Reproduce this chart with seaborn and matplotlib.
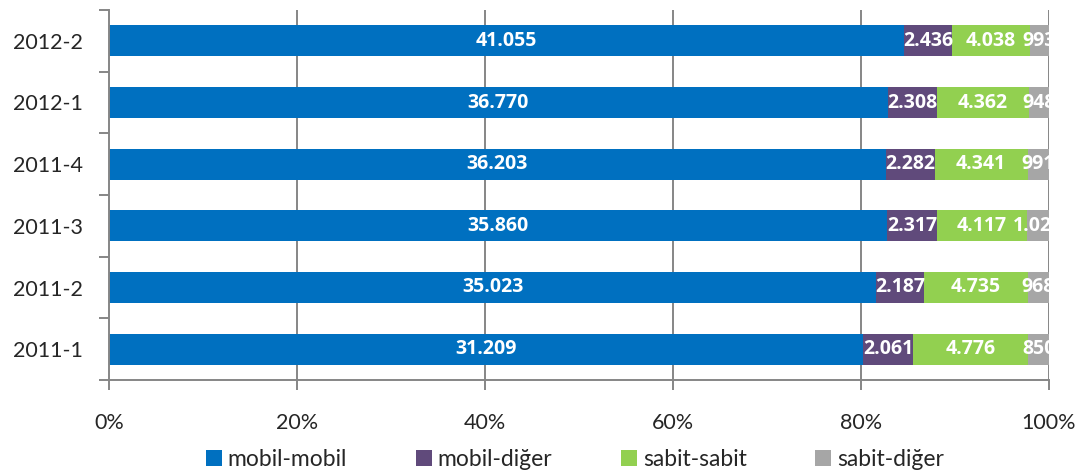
import numpy as np
import pandas as pd
import matplotlib
matplotlib.use('Agg')
import matplotlib.pyplot as plt
from matplotlib.patches import Patch
import seaborn as sns

# data (top to bottom as in the chart)
periods = ['2012-2', '2012-1', '2011-4', '2011-3', '2011-2', '2011-1']
mobil_mobil = [41055, 36770, 36203, 35860, 35023, 31209]
mobil_diger = [2436, 2308, 2282, 2317, 2187, 2061]
sabit_sabit = [4038, 4362, 4341, 4117, 4735, 4776]
sabit_diger = [993, 948, 991, 1024, 968, 850]

series = ['mobil-mobil', 'mobil-diğer', 'sabit-sabit', 'sabit-diğer']
colors = ['#0070C0', '#604A7B', '#92D050', '#A6A6A6']

sns.set_style('white')
plt.rcParams['font.family'] = ['Lato', 'DejaVu Sans']

df = pd.DataFrame({'period': periods, series[0]: mobil_mobil, series[1]: mobil_diger,
                   series[2]: sabit_sabit, series[3]: sabit_diger})
vals = df[series].to_numpy(dtype=float)
pct = vals / vals.sum(axis=1, keepdims=True) * 100
cum = np.cumsum(pct, axis=1)

fig = plt.figure(figsize=(10.91, 4.75), dpi=100)
ax = fig.add_axes([109 / 1091, 1 - 380 / 475, (1049 - 109) / 1091, 370 / 475])

# gridlines behind bars
for g in [20, 40, 60, 80, 100]:
    ax.axvline(g, color='#868686', lw=1.4, zorder=0)

# overlay cumulative bars, widest first
for i in range(3, -1, -1):
    sns.barplot(x=cum[:, i], y=periods, color=colors[i], saturation=1, width=0.5,
                orient='h', ax=ax, linewidth=0, zorder=2)

# data labels
for r in range(len(periods)):
    for i in range(4):
        left = cum[r, i] - pct[r, i]
        xc = left + pct[r, i] / 2
        txt = f"{int(vals[r, i]):,}".replace(',', '.')
        ax.text(xc, r, txt, ha='center', va='center', color='white', fontsize=14,
                fontweight='bold', family=['Open Sans', 'DejaVu Sans'],
                zorder=5, clip_on=True)

ax.set_xlim(0, 100)
ax.set_ylim(5.5, -0.5)
ax.set_xticks([0, 20, 40, 60, 80, 100])
ax.set_xticklabels(['0%', '20%', '40%', '60%', '80%', '100%'])
ax.set_yticks(range(len(periods)))
ax.set_yticklabels(periods)
ax.set_yticks(np.arange(-0.5, 6.0, 1), minor=True)
ax.set_xlabel('')
ax.set_ylabel('')

for s in ['top', 'right']:
    ax.spines[s].set_visible(False)
for s in ['left', 'bottom']:
    ax.spines[s].set_color('#868686')
    ax.spines[s].set_linewidth(1.4)

ax.tick_params(axis='x', length=7, width=1.4, color='#868686', labelsize=15.5, pad=17,
               direction='out', bottom=True)
ax.tick_params(axis='y', which='major', length=0, labelsize=15.5, pad=19, left=False)
ax.tick_params(axis='y', which='minor', length=7, width=1.4, color='#868686',
               direction='out', left=True)

handles = [Patch(facecolor=c, edgecolor='none', label=s) for c, s in zip(colors, series)]
fig.legend(handles=handles, loc='center', bbox_to_anchor=(0.527, 0.032), ncol=4,
           frameon=False, fontsize=16.5, handlelength=0.7, handleheight=0.7,
           handletextpad=0.25, columnspacing=3.0)

fig.savefig('out.png', dpi=100)
